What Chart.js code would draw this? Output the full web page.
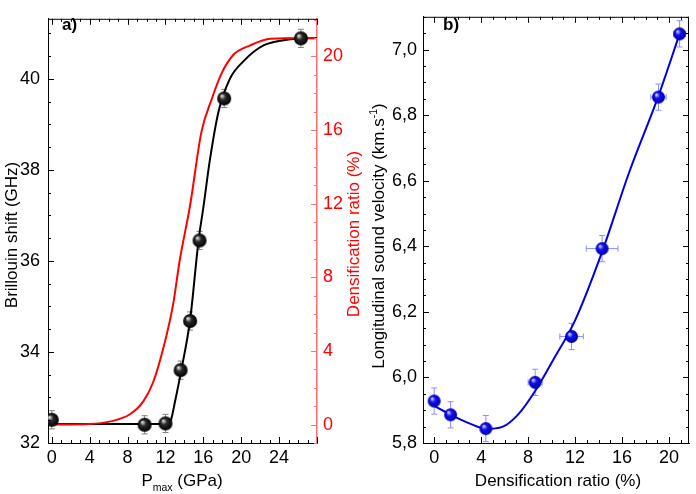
<!DOCTYPE html>
<html>
<head>
<meta charset="utf-8">
<script src="https://cdn.jsdelivr.net/npm/chart.js@4.4.1/dist/chart.umd.min.js"></script>
<style>
  body { margin: 0; background: #fff; }
  #wrap { position: relative; width: 696px; height: 494px; }
  #wrap canvas { position: absolute; top: 0; }
</style>
</head>
<body>
<div id="wrap">
  <canvas id="chartA" width="365" height="494" style="left:0"></canvas>
  <canvas id="chartB" width="331" height="494" style="left:365px"></canvas>
</div>
<script>
// panel a) - Brillouin shift vs max pressure
const pressureGPa  = [0, 9.8, 12, 13.6, 14.6, 15.6, 18.2, 26.3];
const brillouinGHz = [32.51, 32.4, 32.43, 33.6, 34.68, 36.45, 39.57, 40.89];
const brillouinErr = [0.2, 0.2, 0.2, 0.2, 0.2, 0.2, 0.2, 0.2];

// fit curve (black)
const fitPressure  = [0, 6, 12.2, 12.6, 13.0, 13.7, 14.6, 15.5, 16.0, 16.7, 17.6, 18.8, 20.2, 22.4, 25.2, 28];
const fitBrillouin = [32.42, 32.42, 32.42, 32.52, 32.9, 33.63, 34.7, 36.46, 37.17, 38.23, 39.28, 40.0, 40.38, 40.74, 40.87, 40.9];

// densification ratio curve (red, right axis)
const densPressure = [0, 4, 6.1, 8.25, 9.66, 10.7, 11.8, 12.8, 13.5, 14.6, 15.8, 16.9, 17.95, 19.2, 20.95, 23.1, 27.8];
const densCurve    = [0, 0.03, 0.16, 0.56, 1.26, 2.3, 4.2, 6.5, 8.9, 11.9, 15.9, 17.7, 19.1, 20.1, 20.6, 20.95, 21.0];

// panel b) - sound velocity vs densification
const densRatio   = [0, 1.4, 4.4, 8.6, 11.7, 14.3, 19.1, 20.9];
const velocity    = [5.928, 5.886, 5.844, 5.985, 6.125, 6.393, 6.855, 7.048];
const velocityErr = [0.04, 0.04, 0.04, 0.04, 0.04, 0.04, 0.04, 0.04];
const densErr     = [0.3, 0.3, 0.3, 0.6, 1.0, 1.35, 0.65, 0.5];

const fitDens     = [0, 1.42, 3, 4.43, 5.8, 7.2, 8.57, 10.1, 12.0, 14.27, 16.6, 19.06, 20.9];
const fitVelocity = [5.913, 5.886, 5.86, 5.843, 5.849, 5.889, 5.957, 6.051, 6.174, 6.38, 6.625, 6.855, 7.048];

// tick labels
const ticksPressure = [0, 4, 8, 12, 16, 20, 24];
const ticksShift    = [32, 34, 36, 38, 40];
const ticksDensA    = [0, 4, 8, 12, 16, 20];
const ticksDensB    = [0, 4, 8, 12, 16, 20];
const ticksVelocity = [5.8, 6.0, 6.2, 6.4, 6.6, 6.8, 7.0];

const FONT = '"Liberation Sans", Arial, sans-serif';
Chart.defaults.font.family = FONT;

// shaded ball used as point marker
function ball(r, dark, mid, light) {
  const c = document.createElement('canvas');
  c.width = c.height = 2 * r + 2;
  const g = c.getContext('2d');
  const cx = r + 1, cy = r + 1;
  const grad = g.createRadialGradient(cx - r * 0.35, cy - r * 0.4, r * 0.05, cx, cy, r);
  grad.addColorStop(0, light);
  grad.addColorStop(0.4, mid);
  grad.addColorStop(1, dark);
  g.fillStyle = grad;
  g.beginPath();
  g.arc(cx, cy, r, 0, Math.PI * 2);
  g.fill();
  return c;
}
const blackBall = ball(7, '#000', '#2a2a2a', '#e8e8e8');
const blueBall = ball(6.5, '#0000a8', '#1010f0', '#d8d8ff');

const pts = (xs, ys) => xs.map((x, i) => ({ x: x, y: ys[i] }));
const fixed = list => scale => { scale.ticks = list.map(v => ({ value: v })); };

// error bars, drawn under the markers
function errorBars(xId, yId, xs, ys, yErr, xErr, color) {
  return {
    id: 'errorBars',
    beforeDatasetsDraw(chart) {
      const ctx = chart.ctx, sx = chart.scales[xId], sy = chart.scales[yId];
      ctx.save();
      ctx.strokeStyle = color;
      ctx.lineWidth = 1;
      xs.forEach((xv, i) => {
        const px = sx.getPixelForValue(xv), py = sy.getPixelForValue(ys[i]);
        ctx.beginPath();
        if (yErr) {
          const t = sy.getPixelForValue(ys[i] + yErr[i]), b = sy.getPixelForValue(ys[i] - yErr[i]);
          ctx.moveTo(px, t); ctx.lineTo(px, b);
          ctx.moveTo(px - 3, t); ctx.lineTo(px + 3, t);
          ctx.moveTo(px - 3, b); ctx.lineTo(px + 3, b);
        }
        if (xErr) {
          const l = sx.getPixelForValue(xv - xErr[i]), r = sx.getPixelForValue(xv + xErr[i]);
          ctx.moveTo(l, py); ctx.lineTo(r, py);
          ctx.moveTo(l, py - 3); ctx.lineTo(l, py + 3);
          ctx.moveTo(r, py - 3); ctx.lineTo(r, py + 3);
        }
        ctx.stroke();
      });
      ctx.restore();
    }
  };
}

// inward tick marks (3 minor ticks between majors) + frame lines
function innerTicks(marks, frame) {
  return {
    id: 'innerTicks',
    afterDraw(chart) {
      const ctx = chart.ctx, a = chart.chartArea;
      ctx.save();
      ctx.lineWidth = 1;
      ctx.strokeStyle = '#000';
      ctx.beginPath();
      frame.forEach(side => {
        if (side === 'top') { ctx.moveTo(a.left, a.top + 0.5); ctx.lineTo(a.right, a.top + 0.5); }
        if (side === 'right') { ctx.moveTo(a.right - 0.5, a.top); ctx.lineTo(a.right - 0.5, a.bottom); }
      });
      ctx.stroke();
      marks.forEach(m => {
        const s = chart.scales[m.axis];
        const major = s.ticks.map(t => t.value);
        const step = (major[1] - major[0]) / 4;
        const all = [];
        for (let k = -8; k <= (major.length + 2) * 4; k++) {
          const v = major[0] + k * step;
          if (v < s.min - 1e-9 || v > s.max + 1e-9) continue;
          all.push([v, k % 4 === 0 ? 6 : 3]);
        }
        ctx.strokeStyle = m.color;
        ctx.beginPath();
        m.sides.forEach(side => {
          all.forEach(([v, len]) => {
            const p = Math.round(s.getPixelForValue(v)) + 0.5;
            if (side === 'bottom') { ctx.moveTo(p, a.bottom); ctx.lineTo(p, a.bottom - len); }
            if (side === 'top') { ctx.moveTo(p, a.top); ctx.lineTo(p, a.top + len); }
            if (side === 'left') { ctx.moveTo(a.left, p); ctx.lineTo(a.left + len, p); }
            if (side === 'right') { ctx.moveTo(a.right, p); ctx.lineTo(a.right - len, p); }
          });
        });
        ctx.stroke();
      });
      ctx.restore();
    }
  };
}

function vText(ctx, parts, x, y, color) {
  // parts: [text, size, raise]
  ctx.save();
  ctx.translate(x, y);
  ctx.rotate(-Math.PI / 2);
  ctx.fillStyle = color;
  ctx.textBaseline = 'alphabetic';
  ctx.textAlign = 'left';
  let total = 0;
  parts.forEach(p => { ctx.font = p[1] + 'px ' + FONT; total += ctx.measureText(p[0]).width; });
  let cx = -total / 2;
  parts.forEach(p => {
    ctx.font = p[1] + 'px ' + FONT;
    ctx.fillText(p[0], cx, -p[2]);
    cx += ctx.measureText(p[0]).width;
  });
  ctx.restore();
}
function hText(ctx, parts, x, y, color) {
  ctx.save();
  ctx.fillStyle = color;
  ctx.textBaseline = 'alphabetic';
  ctx.textAlign = 'left';
  let total = 0;
  parts.forEach(p => { ctx.font = p[1] + 'px ' + FONT; total += ctx.measureText(p[0]).width; });
  let cx = x - total / 2;
  parts.forEach(p => {
    ctx.font = p[1] + 'px ' + FONT;
    ctx.fillText(p[0], cx, y - p[2]);
    cx += ctx.measureText(p[0]).width;
  });
  ctx.restore();
}

const titlesA = {
  id: 'titlesA',
  afterDraw(chart) {
    const ctx = chart.ctx;
    vText(ctx, [['Brillouin shift (GHz)', 17, 0]], 17, 235, '#000');
    vText(ctx, [['Densification ratio (%)', 17, 0]], 359, 234, '#ff0000');
    hText(ctx, [['P', 17, 0], ['max', 10.5, -4.5], [' (GPa)', 17, 0]], 182, 486, '#000');
    ctx.save();
    ctx.font = 'bold 17px ' + FONT;
    ctx.fillStyle = '#000';
    ctx.fillText('a)', 62, 30);
    ctx.restore();
  }
};
const titlesB = {
  id: 'titlesB',
  afterDraw(chart) {
    const ctx = chart.ctx;
    vText(ctx, [['Longitudinal sound velocity (km.s', 17, 0], ['-1', 10.5, 7], [')', 17, 0]], 19, 236, '#000');
    hText(ctx, [['Densification ratio (%)', 17, 0]], 193, 486, '#000');
    ctx.save();
    ctx.font = 'bold 17px ' + FONT;
    ctx.fillStyle = '#000';
    ctx.fillText('b)', 78, 30);
    ctx.restore();
  }
};

const tickFont = { size: 18, family: FONT };
const noGrid = { display: false, drawTicks: false };

new Chart(document.getElementById('chartA'), {
  type: 'scatter',
  data: {
    datasets: [
      { data: pts(pressureGPa, brillouinGHz), yAxisID: 'y', pointStyle: blackBall, pointRadius: 7 },
      { data: pts(densPressure, densCurve), yAxisID: 'y2', showLine: true, borderColor: '#ff0000',
        borderWidth: 2, pointRadius: 0, cubicInterpolationMode: 'monotone' },
      { data: pts(fitPressure, fitBrillouin), yAxisID: 'y', showLine: true, borderColor: '#000',
        borderWidth: 2, pointRadius: 0, cubicInterpolationMode: 'monotone' }
    ]
  },
  options: {
    responsive: false,
    animation: false,
    events: [],
    layout: { padding: { top: 3, left: 0, right: 0, bottom: 0 }, autoPadding: false },
    plugins: { legend: { display: false }, tooltip: { enabled: false } },
    scales: {
      x: {
        type: 'linear', position: 'bottom', min: -0.4, max: 28,
        afterBuildTicks: fixed(ticksPressure),
        afterFit: s => { s.height = 51; },
        ticks: { font: tickFont, color: '#000', padding: 4, callback: v => String(v) },
        grid: noGrid, border: { color: '#000', width: 1 }
      },
      y: {
        type: 'linear', position: 'left', min: 32, max: 41.32,
        afterBuildTicks: fixed(ticksShift),
        afterFit: s => { s.width = 48; },
        ticks: { font: tickFont, color: '#000', padding: 8, callback: v => String(v) },
        grid: noGrid, border: { color: '#000', width: 1 }
      },
      y2: {
        type: 'linear', position: 'right', min: -1, max: 22.04,
        afterBuildTicks: fixed(ticksDensA),
        afterFit: s => { s.width = 48; },
        ticks: { font: tickFont, color: '#ff0000', padding: 6, callback: v => String(v) },
        grid: noGrid, border: { color: '#ff7070', width: 1.5 }
      }
    }
  },
  plugins: [
    errorBars('x', 'y', pressureGPa, brillouinGHz, brillouinErr, null, '#808080'),
    innerTicks([
      { axis: 'x', sides: ['bottom', 'top'], color: '#000' },
      { axis: 'y', sides: ['left'], color: '#000' },
      { axis: 'y2', sides: ['right'], color: '#ff7070' }
    ], ['top']),
    titlesA
  ]
});

new Chart(document.getElementById('chartB'), {
  type: 'scatter',
  data: {
    datasets: [
      { data: pts(densRatio, velocity), pointStyle: blueBall, pointRadius: 7 },
      { data: pts(fitDens, fitVelocity), showLine: true, borderColor: '#0000e6',
        borderWidth: 2, pointRadius: 0, cubicInterpolationMode: 'monotone' }
    ]
  },
  options: {
    responsive: false,
    animation: false,
    events: [],
    layout: { padding: { top: 3, left: 0, right: 7, bottom: 0 }, autoPadding: false },
    plugins: { legend: { display: false }, tooltip: { enabled: false } },
    scales: {
      x: {
        type: 'linear', position: 'bottom', min: -0.95, max: 21.7,
        afterBuildTicks: fixed(ticksDensB),
        afterFit: s => { s.height = 51; },
        ticks: { font: tickFont, color: '#000', padding: 4, callback: v => String(v) },
        grid: noGrid, border: { color: '#000', width: 1 }
      },
      y: {
        type: 'linear', position: 'left', min: 5.8, max: 7.1,
        afterBuildTicks: fixed(ticksVelocity),
        afterFit: s => { s.width = 58; },
        ticks: { font: tickFont, color: '#000', padding: 6, callback: v => v.toFixed(1).replace('.', ',') },
        grid: noGrid, border: { color: '#000', width: 1 }
      }
    }
  },
  plugins: [
    errorBars('x', 'y', densRatio, velocity, velocityErr, densErr, '#8c8cff'),
    innerTicks([
      { axis: 'x', sides: ['bottom', 'top'], color: '#000' },
      { axis: 'y', sides: ['left', 'right'], color: '#000' }
    ], ['top', 'right']),
    titlesB
  ]
});
</script>
</body>
</html>
